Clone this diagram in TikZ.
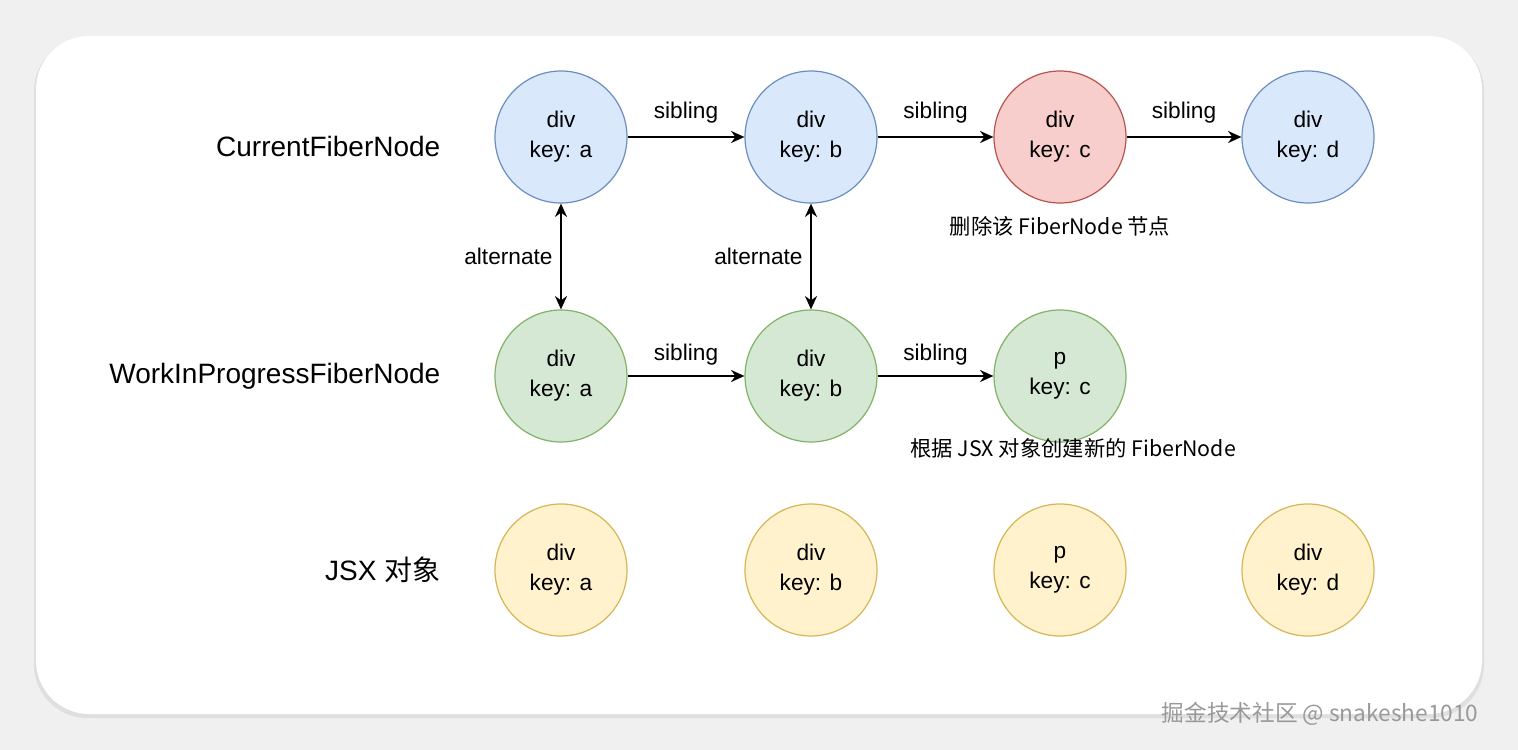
\documentclass[tikz,border=0pt]{standalone}
\usepackage{fontspec}
\setmainfont{Liberation Sans}
\newfontfamily\cjk{Noto Sans CJK SC}
\usetikzlibrary{arrows.meta}
\definecolor{bf}{HTML}{DAE8FC}\definecolor{bs}{HTML}{6C8EBF}
\definecolor{rf}{HTML}{F8CECC}\definecolor{rs}{HTML}{B85450}
\definecolor{gf}{HTML}{D5E8D4}\definecolor{gs}{HTML}{82B366}
\definecolor{yf}{HTML}{FFF2CC}\definecolor{ys}{HTML}{D6B656}
\begin{document}
\begin{tikzpicture}[x=0.75pt,y=-0.75pt,
  fn/.style={circle,minimum size=99pt,inner sep=0pt,line width=0.9pt,align=center,font=\fontsize{17}{22.5}\selectfont},
  blue/.style={fn,fill=bf,draw=bs},red/.style={fn,fill=rf,draw=rs},
  green/.style={fn,fill=gf,draw=gs},yellow/.style={fn,fill=yf,draw=ys},
  row/.style={anchor=east,font=\fontsize{21}{25}\selectfont},
  lab/.style={font=\fontsize{17}{20}\selectfont},
  note/.style={font=\cjk\fontsize{16}{19}\selectfont},
  arr/.style={-{Stealth[length=10pt,width=9pt]},line width=2pt}]
\useasboundingbox (0,0) rectangle (1518,750);
\fill[gray!12] (0,0) rectangle (1518,750);
\fill[gray!25,rounded corners=40] (34,38) rectangle (1484,718);
\fill[white,rounded corners=40] (36,36) rectangle (1482,714);
\node[row] (r1) at (445,146) {CurrentFiberNode};
\node[row] (r2) at (445,376) {WorkInProgressFiberNode};
\node[row] (r3) at (445,570) {JSX {\cjk 对象}};
\node[blue] (a1) at (561,137) {div\\key: a};
\node[blue] (b1) at (811,137) {div\\key: b};
\node[red] (c1) at (1060,137) {div\\key: c};
\node[blue] (d1) at (1308,137) {div\\key: d};
\node[green] (a2) at (561,376) {div\\key: a};
\node[green] (b2) at (811,376) {div\\key: b};
\node[green] (c2) at (1060,376) {p\\key: c};
\node[yellow] (a3) at (561,570) {div\\key: a};
\node[yellow] (b3) at (811,570) {div\\key: b};
\node[yellow] (c3) at (1060,570) {p\\key: c};
\node[yellow] (d3) at (1308,570) {div\\key: d};
\draw[arr] (a1) -- node[lab,above,yshift=6pt]{sibling} (b1);
\draw[arr] (b1) -- node[lab,above,yshift=6pt]{sibling} (c1);
\draw[arr] (c1) -- node[lab,above,yshift=6pt]{sibling} (d1);
\draw[arr] (a2) -- node[lab,above,yshift=4pt]{sibling} (b2);
\draw[arr] (b2) -- node[lab,above,yshift=4pt]{sibling} (c2);
\draw[arr,{Stealth[length=10pt,width=9pt]}-{Stealth[length=10pt,width=9pt]}] (a1) -- node[lab,left,xshift=-2pt]{alternate} (a2);
\draw[arr,{Stealth[length=10pt,width=9pt]}-{Stealth[length=10pt,width=9pt]}] (b1) -- node[lab,left,xshift=-2pt]{alternate} (b2);
\node[note] (n1) at (1060,226) {删除该 FiberNode 节点};
\node[note] (n2) at (1073,448) {根据 JSX 对象创建新的 FiberNode};
\node[note,text=gray!80,font=\cjk\fontsize{17}{20}\selectfont] (wm) at (1320,714) {掘金技术社区 @ snakeshe1010};
\end{tikzpicture}
\end{document}
